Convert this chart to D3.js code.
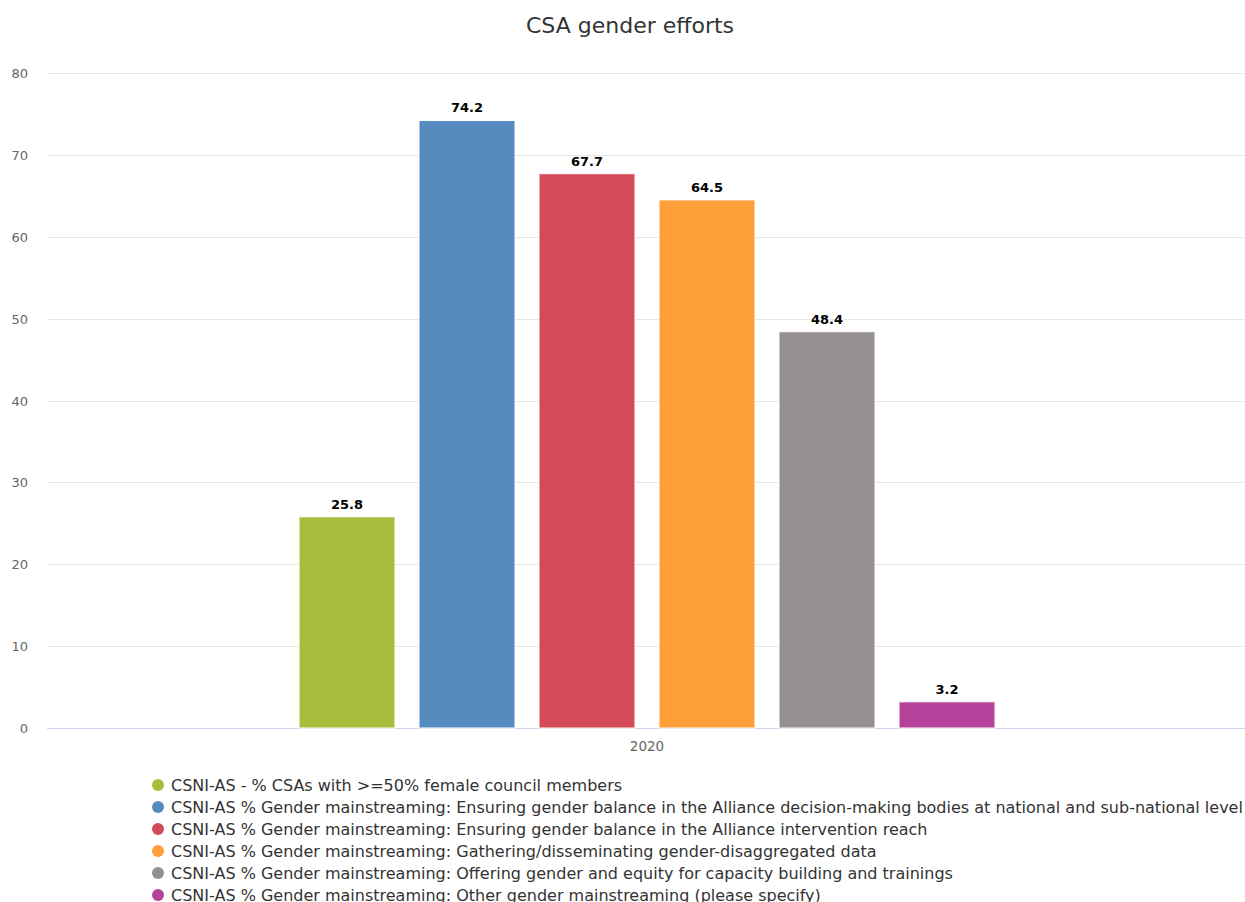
<!DOCTYPE html>
<html><head><meta charset="utf-8">
<script src="https://cdn.jsdelivr.net/npm/d3@7"></script>
<style>body{margin:0;background:#fff;}svg{display:block;font-family:"DejaVu Sans",sans-serif;}</style>
</head><body>
<svg id="c" width="1245" height="902"></svg>
<script>
const title = "CSA gender efforts";
const categories = ["2020"];
const seriesNames = [
  "CSNI-AS - % CSAs with >=50% female council members",
  "CSNI-AS % Gender mainstreaming: Ensuring gender balance in the Alliance decision-making bodies at national and sub-national level",
  "CSNI-AS % Gender mainstreaming: Ensuring gender balance in the Alliance intervention reach",
  "CSNI-AS % Gender mainstreaming: Gathering/disseminating gender-disaggregated data",
  "CSNI-AS % Gender mainstreaming: Offering gender and equity for capacity building and trainings",
  "CSNI-AS % Gender mainstreaming: Other gender mainstreaming (please specify)"
];
const seriesValues = [25.8, 74.2, 67.7, 64.5, 48.4, 3.2];
const seriesColors = ["#a9bd3d", "#558bbf", "#d34a59", "#fe9f3a", "#968f8f", "#b5429b"];
const yTicks = [0, 10, 20, 30, 40, 50, 60, 70, 80];

const svg = d3.select("#c");
const m = {left: 47, right: 1247, top: 73, bottom: 728};

const x0 = d3.scaleBand().domain(categories).range([m.left, m.right]).paddingInner(0).paddingOuter(0);
const groupW = x0.bandwidth() * 0.6;
const x1 = d3.scaleBand().domain(d3.range(seriesNames.length))
  .range([0, groupW]).padding(0);
const y = d3.scaleLinear().domain([0, 80]).range([m.bottom, m.top]);

svg.append("text").attr("x", 630).attr("y", 33).attr("text-anchor", "middle")
  .attr("font-size", 22).attr("fill", "#333").text(title);

// grid
const grid = svg.append("g");
yTicks.forEach(t => {
  grid.append("line").attr("x1", m.left).attr("x2", 1245)
    .attr("y1", Math.round(y(t)) + 0.5).attr("y2", Math.round(y(t)) + 0.5)
    .attr("stroke", t === 0 ? "#ccd6eb" : "#e6e6e6").attr("stroke-width", 1);
  svg.append("text").attr("x", 28).attr("y", y(t) + 5).attr("text-anchor", "end")
    .attr("font-size", 13).attr("fill", "#666").text(t);
});

// bars
categories.forEach(cat => {
  const gx = x0(cat) + (x0.bandwidth() - groupW) / 2;
  seriesValues.forEach((v, i) => {
    const bw = x1.bandwidth();
    const bx = gx + x1(i) + bw * 0.1;
    const w = bw * 0.8;
    svg.append("rect").attr("x", bx).attr("y", y(v)).attr("width", w)
      .attr("height", y(0) - y(v)).attr("fill", seriesColors[i])
      .attr("stroke", "#fff").attr("stroke-width", 1);
    svg.append("text").attr("x", bx + w / 2).attr("y", y(v) - 8)
      .attr("text-anchor", "middle").attr("font-size", 13).attr("font-weight", "bold")
      .attr("fill", "#000").attr("stroke", "#fff").attr("stroke-width", 2)
      .attr("paint-order", "stroke").text(v);
  });
  svg.append("text").attr("x", x0(cat) + x0.bandwidth() / 2).attr("y", 751)
    .attr("text-anchor", "middle").attr("font-size", 13.5).attr("fill", "#666").text(cat);
});

// legend
seriesNames.forEach((n, i) => {
  const ly = 785 + i * 22;
  svg.append("circle").attr("cx", 158).attr("cy", ly).attr("r", 6).attr("fill", seriesColors[i]);
  svg.append("text").attr("x", 171).attr("y", ly + 6).attr("font-size", 16)
    .attr("fill", "#333").text(n);
});
</script>
</body></html>
